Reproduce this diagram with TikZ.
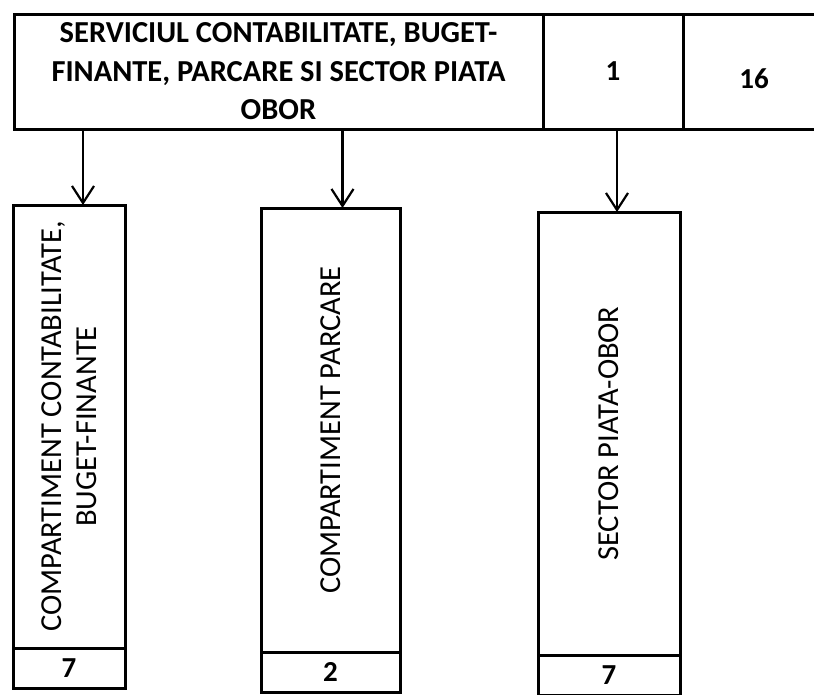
\documentclass[tikz,border=0pt]{standalone}
\usepackage{fontspec}
\setmainfont{Carlito}
\usetikzlibrary{arrows.meta}
\begin{document}
\begin{tikzpicture}[x=1pt,y=-1pt,
  box/.style={draw, line width=3pt, inner sep=0pt, outer sep=0pt, anchor=north west},
  toptxt/.style={font=\bfseries\fontsize{30.5}{38.5}\selectfont, align=center},
  vtxt/.style={rotate=90, font=\fontsize{30.5}{35}\selectfont, align=center},
  numtxt/.style={font=\bfseries\fontsize{29}{30}\selectfont},
  arr/.style={line width=2.2pt, -{Straight Barb[length=17pt,width=22pt,line width=2.2pt]}}]
\useasboundingbox (0,0) rectangle (814,694);
\fill[white] (0,0) rectangle (814,694);
\clip (0,0) rectangle (814,694);
% top row
\node[box, toptxt, minimum width=529pt, minimum height=115pt] (top) at (14,14)
  {SERVICIUL CONTABILITATE, BUGET-\\FINANTE, PARCARE SI SECTOR PIATA\\OBOR};
\node[box, numtxt, minimum width=140pt, minimum height=115pt] (c1) at (543,14) {1};
\node[box, minimum width=150pt, minimum height=115pt] (c2) at (683,14) {};
\node[numtxt] (c2t) at (754,79) {16};
% lower boxes
\node[draw, line width=3pt, inner sep=0pt, outer sep=0pt, vtxt, minimum width=443pt, minimum height=112pt] (b1) at (69,426.5)
  {COMPARTIMENT CONTABILITATE,\\BUGET-FINANTE};
\node[box, numtxt, minimum width=112pt, minimum height=40pt] (n1) at (13,648) {7};
\node[draw, line width=3pt, inner sep=0pt, outer sep=0pt, vtxt, minimum width=444pt, minimum height=139pt] (b2) at (330.5,430)
  {COMPARTIMENT PARCARE};
\node[box, numtxt, minimum width=139pt, minimum height=40pt] (n2) at (261,652) {2};
\node[draw, line width=3pt, inner sep=0pt, outer sep=0pt, vtxt, minimum width=443pt, minimum height=142pt] (b3) at (609,433.5)
  {SECTOR PIATA-OBOR};
\node[box, numtxt, minimum width=142pt, minimum height=40pt] (n3) at (538,655) {7};
% arrows
\draw[arr] ([xshift=14pt]b1.east |- top.south) -- ([xshift=14pt]b1.east);
\draw[arr] ([xshift=12pt]b2.east |- top.south) -- ([xshift=12pt]b2.east);
\draw[arr] ([xshift=8pt]b3.east |- c1.south) -- ([xshift=8pt]b3.east);
\end{tikzpicture}
\end{document}
